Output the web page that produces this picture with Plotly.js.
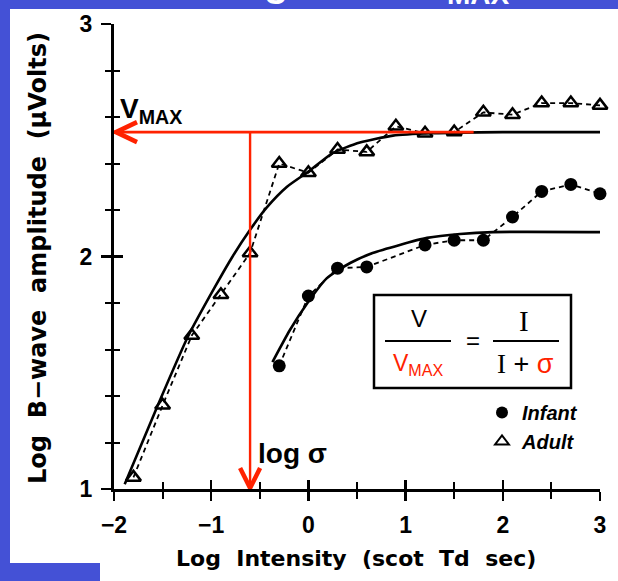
<!DOCTYPE html>
<html>
<head>
<meta charset="utf-8">
<script src="https://cdn.plot.ly/plotly-3.0.1.min.js"></script>
<style>html,body{margin:0;padding:0;background:white;overflow:hidden;}#chart{width:618px;height:581px;}</style>
</head>
<body>
<div id="chart"></div>
<script>
// ---- data ----
const adultX = [-1.8, -1.5, -1.2, -0.9, -0.6, -0.3, 0, 0.3, 0.6, 0.9, 1.2, 1.5, 1.8, 2.1, 2.4, 2.7, 3.0];
const adultY = [1.05, 1.36, 1.66, 1.835, 2.015, 2.40, 2.36, 2.46, 2.45, 2.56, 2.53, 2.535, 2.62, 2.61, 2.66, 2.66, 2.65];
const infantX = [-0.3, 0, 0.3, 0.6, 1.2, 1.5, 1.8, 2.1, 2.4, 2.7, 3.0];
const infantY = [1.53, 1.83, 1.95, 1.955, 2.05, 2.07, 2.07, 2.17, 2.28, 2.31, 2.27];
// fitted (solid) curves
const adultFitX = [-1.89, -1.56, -1.24, -0.96, -0.78, -0.60, -0.43, -0.22, 0.0, 0.25, 0.53, 0.87, 1.28, 2.0, 3.0];
const adultFitY = [1.02, 1.35, 1.655, 1.87, 2.0, 2.115, 2.21, 2.30, 2.365, 2.445, 2.49, 2.52, 2.53, 2.535, 2.535];
const infantFitX = [-0.37, -0.19, -0.01, 0.19, 0.43, 0.66, 0.94, 1.22, 1.56, 1.90, 3.0];
const infantFitY = [1.546, 1.684, 1.80, 1.907, 1.972, 2.015, 2.05, 2.08, 2.097, 2.105, 2.105];
// reference markers (adult fit)
const logVmax = 2.535;
const logSigma = -0.6;
const vmaxLineEnd = 1.7;
const xTickVals = [-2, -1, 0, 1, 2, 3];
const xTickText = ['\u22122', '\u22121', '0', '1', '2', '3'];
const xMinorVals = [-1.5, -0.5, 0.5, 1.5, 2.5];
const yTickVals = [1, 2, 3];
const yTickText = ['1', '2', '3'];
const yMinorVals = [1.2, 1.4, 1.6, 1.8, 2.2, 2.4, 2.6, 2.8];
const xRange = [-2, 3];
const yRange = [1, 3];

// ---- layout helpers (pixel -> paper) ----
const L = 114, R = 600, T = 24, B = 489;
const px = p => (p - L) / (R - L);
const py = p => (B - p) / (B - T);
const NB = '\u00a0';
const BLUE = '#4451d6';

const dashLine = {color: 'black', width: 1.8, dash: '5px,4px'};
const solidLine = {color: 'black', width: 2.6, shape: 'spline', smoothing: 0.6};

const traces = [
  {x: adultX, y: adultY, mode: 'lines', line: dashLine, showlegend: false, hoverinfo: 'skip'},
  {x: infantX, y: infantY, mode: 'lines', line: dashLine, showlegend: false, hoverinfo: 'skip'},
  {x: adultFitX, y: adultFitY, mode: 'lines', line: solidLine, showlegend: false, hoverinfo: 'skip'},
  {x: infantFitX, y: infantFitY, mode: 'lines', line: solidLine, showlegend: false, hoverinfo: 'skip'},
  {x: infantX, y: infantY, mode: 'markers', name: 'Infant', legendgroup: 'a', cliponaxis: false,
   marker: {symbol: 'circle', size: 13, color: 'black'}},
  {x: adultX, y: adultY, mode: 'markers', name: 'Adult', legendgroup: 'b', cliponaxis: false,
   marker: {symbol: 'triangle-up-open', size: 13, color: 'black', line: {width: 2.5, color: 'black'}}},
  {x: [], y: [], xaxis: 'x2', yaxis: 'y2', showlegend: false, hoverinfo: 'skip'}
];

const tickFont = {family: 'Liberation Sans, Arial, sans-serif', size: 23, color: 'black', weight: 'bold'};
const titleFont = {family: 'DejaVu Sans, sans-serif', size: 22, color: 'black', weight: 'bold'};
const red = '#ff2200';

const layout = {
  width: 618, height: 581,
  margin: {l: L, r: 618 - R, t: T, b: 581 - B, pad: 0},
  paper_bgcolor: 'white',
  plot_bgcolor: 'white',
  showlegend: true,
  xaxis: {
    range: xRange, showgrid: false, zeroline: false, showline: true, linecolor: 'black', linewidth: 3,
    ticks: 'outside', ticklen: 9, tickwidth: 2.5, tickcolor: 'black',
    tickvals: xTickVals, ticktext: xTickText, tickfont: tickFont, ticklabelstandoff: 4,
    minor: {tickvals: xMinorVals, ticks: 'outside', ticklen: 7, tickwidth: 2, tickcolor: 'black', showgrid: false}
  },
  yaxis: {
    range: yRange, showgrid: false, zeroline: false, showline: true, linecolor: 'black', linewidth: 3,
    ticks: 'outside', ticklen: 10, tickwidth: 2.5, tickcolor: 'black',
    tickvals: yTickVals, ticktext: yTickText, tickfont: tickFont, ticklabelstandoff: 4,
    minor: {tickvals: yMinorVals, ticks: 'outside', ticklen: 6, tickwidth: 2, tickcolor: 'black', showgrid: false}
  },
  xaxis2: {
    overlaying: 'x', anchor: 'y2', side: 'bottom', range: xRange, showgrid: false, zeroline: false, showline: false,
    ticks: 'inside', ticklen: 9, tickwidth: 2.5, tickcolor: 'black', tickvals: xTickVals, showticklabels: false,
    minor: {tickvals: xMinorVals, ticks: 'inside', ticklen: 7, tickwidth: 2, tickcolor: 'black', showgrid: false}
  },
  yaxis2: {
    overlaying: 'y', anchor: 'x2', side: 'left', range: yRange, showgrid: false, zeroline: false, showline: false,
    ticks: 'inside', ticklen: 9, tickwidth: 2.5, tickcolor: 'black', tickvals: yTickVals, showticklabels: false,
    minor: {tickvals: yMinorVals, ticks: 'inside', ticklen: 6, tickwidth: 2, tickcolor: 'black', showgrid: false}
  },
  legend: {
    x: px(482), y: py(393), xanchor: 'left', yanchor: 'top', bgcolor: 'rgba(0,0,0,0)',
    font: {family: 'Liberation Sans, Arial, sans-serif', size: 20, color: 'black', weight: 'bold', style: 'italic'},
    itemsizing: 'constant', itemwidth: 30, tracegroupgap: 0, traceorder: 'grouped'
  },
  shapes: [
    // blue slide margins around the picture
    {type: 'rect', xref: 'paper', yref: 'paper', x0: px(0), x1: px(10), y0: py(581), y1: py(0),
     fillcolor: BLUE, line: {width: 0}, layer: 'below'},
    {type: 'rect', xref: 'paper', yref: 'paper', x0: px(0), x1: px(618), y0: py(9), y1: py(0),
     fillcolor: BLUE, line: {width: 0}, layer: 'below'},
    {type: 'rect', xref: 'paper', yref: 'paper', x0: px(0), x1: px(100), y0: py(581), y1: py(563),
     fillcolor: BLUE, line: {width: 0}, layer: 'below'},
    // formula box
    {type: 'rect', xref: 'paper', yref: 'paper', x0: px(374), x1: px(571), y0: py(388), y1: py(295),
     fillcolor: 'white', line: {color: 'black', width: 2.5}, layer: 'above'},
    {type: 'line', xref: 'paper', yref: 'paper', x0: px(385), x1: px(451), y0: py(341), y1: py(341),
     line: {color: 'black', width: 2}},
    {type: 'line', xref: 'paper', yref: 'paper', x0: px(493), x1: px(559), y0: py(341), y1: py(341),
     line: {color: 'black', width: 2}},
    // red guide lines
    {type: 'line', xref: 'x', yref: 'y', x0: xRange[0], x1: vmaxLineEnd, y0: logVmax, y1: logVmax,
     line: {color: red, width: 2.6}, layer: 'above'},
    {type: 'line', xref: 'x', yref: 'y', x0: logSigma, x1: logSigma, y0: logVmax, y1: yRange[0],
     line: {color: red, width: 2.4}, layer: 'above'},
    {type: 'path', xref: 'x', yref: 'y', xsizemode: 'pixel', ysizemode: 'pixel', xanchor: xRange[0], yanchor: logVmax,
     path: 'M 23,10 L 2,0 L 23,-10', line: {color: red, width: 4.5}, layer: 'above'},
    {type: 'path', xref: 'x', yref: 'y', xsizemode: 'pixel', ysizemode: 'pixel', xanchor: logSigma, yanchor: yRange[0],
     path: 'M -10,21 L 0,1 L 10,21', line: {color: red, width: 4.5}, layer: 'above'}
  ],
  annotations: [
    // slide title (mostly off-page, only its lowest strokes show on the blue strip)
    {xref: 'paper', yref: 'paper', x: px(512), y: py(-15), xanchor: 'right', yanchor: 'middle', showarrow: false,
     text: 'Estimating σ and V<sub>MAX</sub>', font: {family: 'Liberation Sans, Arial, sans-serif', size: 40, color: 'white', weight: 'bold'}},
    // axis titles
    {xref: 'paper', yref: 'paper', x: px(356), y: py(558), xanchor: 'center', yanchor: 'middle', showarrow: false,
     text: 'Log' + NB + NB + 'Intensity' + NB + NB + '(scot' + NB + NB + 'Td' + NB + NB + 'sec)', font: titleFont},
    {xref: 'paper', yref: 'paper', x: px(38), y: py(258), xanchor: 'center', yanchor: 'middle', showarrow: false, textangle: -90,
     text: 'Log' + NB + NB + 'B\u2212wave' + NB + NB + 'amplitude' + NB + NB + '(μVolts)', font: {family: 'DejaVu Sans, sans-serif', size: 24, color: 'black', weight: 'bold'}},
    // labels on the red guides
    {xref: 'paper', yref: 'paper', x: px(118), y: py(110), xanchor: 'left', yanchor: 'middle', showarrow: false,
     text: 'V<sub>MAX</sub>', font: {family: 'Liberation Sans, Arial, sans-serif', size: 28, color: 'black', weight: 'bold'}},
    {xref: 'paper', yref: 'paper', x: px(256), y: py(453), xanchor: 'left', yanchor: 'middle', showarrow: false,
     text: 'log σ', font: {family: 'Liberation Sans, Arial, sans-serif', size: 28, color: 'black', weight: 'bold'}},
    // formula
    {xref: 'paper', yref: 'paper', x: px(419), y: py(318), xanchor: 'center', yanchor: 'middle', showarrow: false,
     text: 'V', font: {family: 'Liberation Sans, Arial, sans-serif', size: 24, color: 'black'}},
    {xref: 'paper', yref: 'paper', x: px(418), y: py(364), xanchor: 'center', yanchor: 'middle', showarrow: false,
     text: 'V<sub>MAX</sub>', font: {family: 'Liberation Sans, Arial, sans-serif', size: 23, color: red}},
    {xref: 'paper', yref: 'paper', x: px(473), y: py(341), xanchor: 'center', yanchor: 'middle', showarrow: false,
     text: '=', font: {family: 'Liberation Sans, Arial, sans-serif', size: 24, color: 'black'}},
    {xref: 'paper', yref: 'paper', x: px(524), y: py(321), xanchor: 'center', yanchor: 'middle', showarrow: false,
     text: 'I', font: {family: 'Liberation Serif, Times New Roman, serif', size: 29, color: 'black'}},
    {xref: 'paper', yref: 'paper', x: px(525), y: py(364), xanchor: 'center', yanchor: 'middle', showarrow: false,
     text: '<span style="font-family:Liberation Serif,serif">I</span> + <span style="color:' + red + '">σ</span>',
     font: {family: 'Liberation Sans, Arial, sans-serif', size: 27, color: 'black'}}
  ]
};

Plotly.newPlot('chart', traces, layout, {staticPlot: true, displayModeBar: false});
</script>
</body>
</html>
